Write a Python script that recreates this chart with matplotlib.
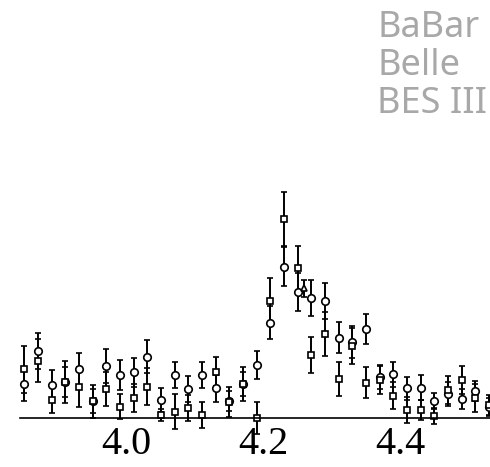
import numpy as np
import matplotlib.pyplot as plt

# mass bins (GeV)
mass = np.round(np.arange(3.85, 4.531, 0.02), 2)

# circles
belle = [3.37, 6.73, 3.3, 3.6, 4.9, 1.7, 5.2, 4.3, 4.57, 6.13,
         1.8, 4.3, 2.9, 4.3, 2.97, 1.7, 3.37, 5.3, 9.53, 15.13,
         12.63, 11.97, 11.73, 8.03, 7.6, 8.87, 4.13, 4.37, 2.97, 3.03,
         1.73, 2.37, 1.93, 2.73, 1.13]
belle_err = [1.64, 1.8, 1.5, 1.5, 1.6, 1.2, 1.67, 1.5, 1.47, 1.63,
             1.23, 1.33, 1.3, 1.3, 1.33, 1.0, 1.2, 1.4, 1.63, 1.93,
             1.9, 1.8, 1.8, 1.53, 1.6, 1.5, 1.2, 1.26, 1.16, 1.27,
             0.8, 1.2, 1.0, 1.0, 0.9]

# squares
babar = [4.87, 5.73, 1.8, 3.6, 3.07, 1.7, 2.9, 1.13, 1.97, 3.13,
         0.3, 0.63, 1.03, 0.3, 4.63, 1.63, 3.37, 0.0, 11.73, 19.87,
         14.97, 6.3, 8.4, 3.9, 7.2, 3.53, 3.8, 2.23, 0.8, 0.8,
         0.2, 2.8, 3.8, 1.97, 1.3]
babar_err = [2.35, 2.13, 1.33, 2.07, 2.0, 1.65, 1.7, 1.27, 1.4, 1.83,
             0.6, 1.74, 1.3, 1.3, 1.43, 1.5, 1.7, 1.6, 2.3, 2.7,
             2.26, 1.8, 2.2, 1.67, 1.8, 1.55, 1.4, 1.33, 1.3, 1.0,
             0.8, 1.4, 1.4, 1.4, 1.0]

# triangles
bes_mass = [4.26]
bes = [12.97]
bes_err = [0.87]

labels = ['BaBar', 'Belle', 'BES III']

fig = plt.figure(figsize=(4.9, 4.67), dpi=100)
ax = fig.add_axes([20/490, 49/467, 470/490, 288/467])

style = dict(color='black', mfc='white', mec='black', mew=1.2,
             elinewidth=1.4, capsize=2, capthick=1.3, ls='none')
ax.errorbar(mass, belle, yerr=belle_err, fmt='o', ms=5.4, **style)
ax.errorbar(mass, babar, yerr=babar_err, fmt='s', ms=5, **style)
ax.errorbar(bes_mass, bes, yerr=bes_err, fmt='^', ms=5, **style)

for a in ax.get_children():
    try:
        a.set_clip_on(False)
    except Exception:
        pass

ax.set_xlim(3.8439, 4.5317)
ax.set_ylim(0, 28.8)
for s in ['left', 'right', 'top']:
    ax.spines[s].set_visible(False)
ax.spines['bottom'].set_linewidth(1.2)
ax.set_yticks([])
ax.set_xticks([4.0, 4.2, 4.4])
ax.set_xticklabels(['4.0', '4.2', '4.4'], family='Liberation Serif', fontsize=29)
ax.tick_params(axis='x', length=0, pad=6)

for i, lab in enumerate(labels):
    fig.text(377/490, 1 - (36.7 + 38.3*i)/467, lab, family='Noto Sans',
             fontsize=26, color='#a8a8a8', va='baseline', ha='left')

plt.savefig('out.png', dpi=100)
